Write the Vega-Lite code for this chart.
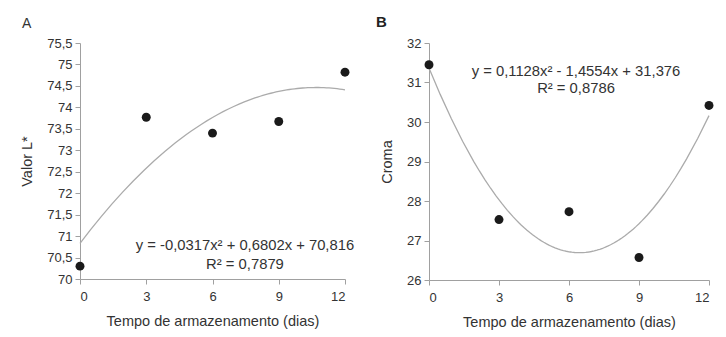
{
  "$schema": "https://vega.github.io/schema/vega-lite/v6.json",
  "background": "white",
  "padding": {"left": 19, "top": 15, "right": 2, "bottom": 2},
  "config": {
    "locale": {"number": {"decimal": ",", "thousands": ".", "grouping": [3], "currency": ["", ""]}},
    "font": "Liberation Sans",
    "view": {"stroke": null},
    "axis": {
      "grid": false,
      "domainColor": "#a0a0a0",
      "tickColor": "#a0a0a0",
      "tickSize": 5,
      "tickCount": 30,
      "labelFont": "Liberation Sans",
      "labelFontSize": 13,
      "labelColor": "#333333",
      "labelOverlap": false,
      "titleFont": "Liberation Sans",
      "titleFontSize": 14.5,
      "titleFontWeight": "normal",
      "titleColor": "#333333"
    },
    "concat": {"spacing": 21}
  },
  "datasets": {
    "lum": [
      {"dias": 0, "valor": 70.3},
      {"dias": 3, "valor": 73.77},
      {"dias": 6, "valor": 73.4},
      {"dias": 9, "valor": 73.67},
      {"dias": 12, "valor": 74.82}
    ],
    "croma": [
      {"dias": 0, "valor": 31.45},
      {"dias": 3, "valor": 27.53},
      {"dias": 6, "valor": 27.73},
      {"dias": 9, "valor": 26.57},
      {"dias": 12, "valor": 30.42}
    ],
    "eqA": [
      {"dias": 7.47, "valor": 70.76, "label": "y = -0,0317x² + 0,6802x + 70,816"},
      {"dias": 7.47, "valor": 70.33, "label": "R² = 0,7879"}
    ],
    "eqB": [
      {"dias": 6.3, "valor": 31.275, "label": "y = 0,1128x² - 1,4554x + 31,376"},
      {"dias": 6.3, "valor": 30.825, "label": "R² = 0,8786"}
    ]
  },
  "hconcat": [
    {
      "width": 265,
      "height": 236,
      "title": {"text": "A", "anchor": "start", "frame": "group", "dx": -58, "fontSize": 14, "fontWeight": "normal", "color": "#333333", "offset": 6},
      "layer": [
        {
          "data": {"name": "lum"},
          "transform": [{"regression": "valor", "on": "dias", "method": "poly", "order": 2, "extent": [0, 12]}],
          "mark": {"type": "line", "color": "#ababab", "strokeWidth": 1.3},
          "encoding": {
            "x": {"field": "dias", "type": "quantitative"},
            "y": {"field": "valor", "type": "quantitative"}
          }
        },
        {
          "data": {"name": "lum"},
          "mark": {"type": "circle", "color": "#1a1a1a", "opacity": 1, "size": 80},
          "encoding": {
            "x": {"field": "dias", "type": "quantitative", "scale": {"domain": [0, 12], "nice": false},
              "axis": {"values": [0, 3, 6, 9, 12], "format": "d", "tickCount": 30, "labelOverlap": false, "title": "Tempo de armazenamento (dias)", "labelPadding": 6, "titlePadding": 11}},
            "y": {"field": "valor", "type": "quantitative", "scale": {"domain": [70, 75.5], "nice": false, "zero": false},
              "axis": {"values": [70, 70.5, 71, 71.5, 72, 72.5, 73, 73.5, 74, 74.5, 75, 75.5], "tickCount": 30, "labelOverlap": false, "format": ".1~f", "title": "Valor L*", "labelPadding": 3, "titlePadding": 12}}
          }
        },
        {
          "data": {"name": "eqA"},
          "mark": {"type": "text", "align": "center", "baseline": "middle", "fontSize": 14.8, "color": "#333333"},
          "encoding": {
            "x": {"field": "dias", "type": "quantitative"},
            "y": {"field": "valor", "type": "quantitative"},
            "text": {"field": "label"}
          }
        }
      ]
    },
    {
      "width": 280,
      "height": 237,
      "title": {"text": "B", "anchor": "start", "frame": "group", "dx": -53, "fontSize": 15, "fontWeight": "bold", "color": "#222222", "offset": 7},
      "layer": [
        {
          "data": {"name": "croma"},
          "transform": [{"regression": "valor", "on": "dias", "method": "poly", "order": 2, "extent": [0, 12]}],
          "mark": {"type": "line", "color": "#ababab", "strokeWidth": 1.3},
          "encoding": {
            "x": {"field": "dias", "type": "quantitative"},
            "y": {"field": "valor", "type": "quantitative"}
          }
        },
        {
          "data": {"name": "croma"},
          "mark": {"type": "circle", "color": "#1a1a1a", "opacity": 1, "size": 80},
          "encoding": {
            "x": {"field": "dias", "type": "quantitative", "scale": {"domain": [0, 12], "nice": false},
              "axis": {"values": [0, 3, 6, 9, 12], "format": "d", "tickCount": 30, "labelOverlap": false, "title": "Tempo de armazenamento (dias)", "labelPadding": 6, "titlePadding": 11}},
            "y": {"field": "valor", "type": "quantitative", "scale": {"domain": [26, 32], "nice": false, "zero": false},
              "axis": {"values": [26, 27, 28, 29, 30, 31, 32], "format": "d", "tickCount": 30, "labelOverlap": false, "title": "Croma", "labelPadding": 3, "titlePadding": 12}}
          }
        },
        {
          "data": {"name": "eqB"},
          "mark": {"type": "text", "align": "center", "baseline": "middle", "fontSize": 14.8, "color": "#333333"},
          "encoding": {
            "x": {"field": "dias", "type": "quantitative"},
            "y": {"field": "valor", "type": "quantitative"},
            "text": {"field": "label"}
          }
        }
      ]
    }
  ]
}
